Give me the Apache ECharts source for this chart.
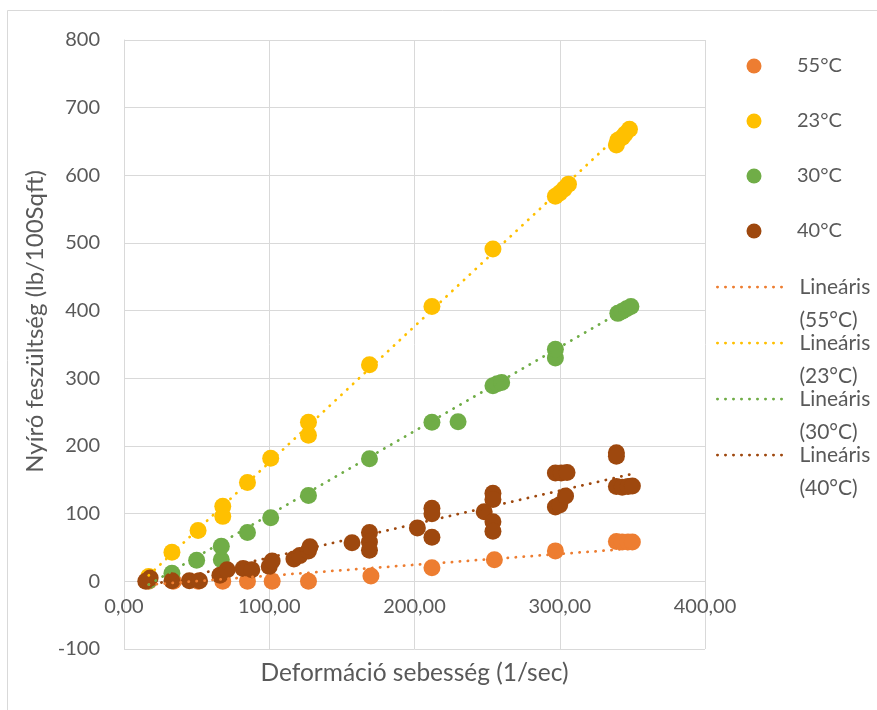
<!DOCTYPE html>
<html>
<head>
<meta charset="utf-8">
<script src="https://cdn.jsdelivr.net/npm/echarts@6/dist/echarts.min.js"></script>
<style>
  html, body { margin: 0; padding: 0; background: #ffffff; }
  #chart { width: 877px; height: 710px; }
</style>
</head>
<body>
<div id="chart"></div>
<script>
// ---- Data ----
const seriesNames = ['55°C', '23°C', '30°C', '40°C'];
const trendNames = ['Lineáris (55°C)', 'Lineáris (23°C)', 'Lineáris (30°C)', 'Lineáris (40°C)'];
const xTicks = [0, 100, 200, 300, 400];
const yTicks = [-100, 0, 100, 200, 300, 400, 500, 600, 700, 800];

const x55 = [17, 34, 51, 68, 85, 102, 127, 170, 212, 255, 297, 339, 343, 347, 350];
const y55 = [0, 0, 0, 0, 0, 0, 0, 8, 20, 32, 45, 59, 58, 58, 58];

const x23 = [17, 33, 51, 68, 68, 85, 101, 127, 127, 169, 212, 254, 297, 300, 303, 306, 339, 340, 343, 345, 348];
const y23 = [7, 43, 75, 96, 111, 146, 182, 216, 235, 320, 406, 491, 569, 574, 580, 587, 645, 652, 656, 661, 668];

const x30 = [17, 33, 50, 67, 67, 85, 101, 127, 169, 212, 230, 254, 257, 260, 297, 297, 340, 343, 346, 349];
const y30 = [1, 12, 31, 32, 52, 72, 94, 127, 181, 235, 236, 289, 292, 294, 330, 343, 396, 399, 403, 406];

const x40 = [15, 18, 33, 45, 52, 66, 71, 82, 88, 100, 102, 117, 121, 127, 128, 157, 169, 169, 169, 202,
             212, 212, 212, 248, 254, 254, 254, 254, 297, 301, 305, 297, 300, 304, 339, 339, 339, 343, 347, 350];
const y40 = [0, 5, 1, 1, 1, 9, 17, 19, 17, 22, 30, 33, 38, 45, 51, 57, 72, 58, 46, 79,
             108, 100, 65, 103, 130, 121, 88, 74, 160, 160, 161, 110, 113, 126, 190, 185, 140, 139, 140, 141];

// Trendline endpoints (x, y)
const trend55X = [17, 350];  const trend55Y = [-5, 48.5];
const trend23X = [17, 348];  const trend23Y = [8.8, 674.4];
const trend30X = [17, 349];  const trend30Y = [-4.9, 406.8];
const trend40X = [15, 350];  const trend40Y = [-7.1, 158.8];

// ---- Styling ----
const colors = ['#ED7D31', '#FFC000', '#70AD47', '#9E480E'];
const textColor = '#595959';
const gridColor = '#D9D9D9';
const FONT = 'Lato, "Open Sans", sans-serif';

function zip(xs, ys) { return xs.map((x, i) => [x, ys[i]]); }

const scatterData = [zip(x55, y55), zip(x23, y23), zip(x30, y30), zip(x40, y40)];
const trendData = [zip(trend55X, trend55Y), zip(trend23X, trend23Y), zip(trend30X, trend30Y), zip(trend40X, trend40Y)];

const series = [];
seriesNames.forEach((name, i) => {
  series.push({
    name: name,
    type: 'scatter',
    data: scatterData[i],
    symbol: 'circle',
    symbolSize: 17,
    itemStyle: { color: colors[i], opacity: 1 },
    z: 2,
    silent: true
  });
});
trendNames.forEach((name, i) => {
  series.push({
    name: name,
    type: 'line',
    data: trendData[i],
    symbol: 'none',
    lineStyle: { color: colors[i], width: 2.75, type: [0.25, 7.75], cap: 'round' },
    itemStyle: { color: colors[i] },
    z: 3,
    silent: true,
    animation: false
  });
});

const LH = 33;
const chart = echarts.init(document.getElementById('chart'), null, { renderer: 'canvas' });
chart.setOption({
  backgroundColor: '#ffffff',
  animation: false,
  textStyle: { fontFamily: FONT },
  grid: { left: 124, right: 172, top: 40, bottom: 61, containLabel: false, outerBoundsMode: 'none' },
  xAxis: {
    type: 'value',
    min: xTicks[0], max: xTicks[xTicks.length - 1], interval: 100,
    name: 'Deformáció sebesség (1/sec)',
    nameLocation: 'middle',
    nameGap: 12,
    nameTextStyle: { color: textColor, fontSize: 24.5, fontFamily: FONT },
    axisLine: { show: false, onZero: false },
    axisTick: { show: false },
    axisLabel: {
      color: textColor, fontSize: 20, fontFamily: FONT, margin: -52,
      formatter: v => v.toFixed(2).replace('.', ',')
    },
    splitLine: { show: true, lineStyle: { color: gridColor, width: 1 } }
  },
  yAxis: {
    type: 'value',
    min: yTicks[0], max: yTicks[yTicks.length - 1], interval: 100,
    name: 'Nyíró feszültség (lb/100Sqft)',
    nameLocation: 'middle',
    nameGap: 71,
    nameTextStyle: { color: textColor, fontSize: 24, fontFamily: FONT, padding: [0, 0, 0, 46] },
    axisLine: { show: true, onZero: false, lineStyle: { color: gridColor, width: 1 } },
    axisTick: { show: false },
    axisLabel: { color: textColor, fontSize: 20, fontFamily: FONT, margin: 24 },
    splitLine: { show: true, lineStyle: { color: gridColor, width: 1 } }
  },
  legend: [
    {
      data: seriesNames,
      orient: 'vertical',
      left: 746.5, top: 56,
      padding: 0,
      itemWidth: 76, itemHeight: 15, itemGap: 35,
      icon: 'circle',
      selectedMode: false,
      textStyle: { color: textColor, fontSize: 20, fontFamily: FONT, lineHeight: 20 }
    },
    {
      data: trendNames,
      orient: 'vertical',
      left: 716, top: 237.5,
      padding: 0,
      itemWidth: 72, itemHeight: 15, itemGap: -37,
      selectedMode: false,
      itemStyle: { color: 'rgba(0,0,0,0)', opacity: 0, borderWidth: 0 },
      lineStyle: { width: 2.75, opacity: 1 },
      formatter: name => {
        const parts = name.split(' ');
        return '{g|\u00a0}\n{s|' + parts[0] + '}\n{s|' + parts[1] + '}';
      },
      textStyle: {
        color: textColor, fontSize: 21, fontFamily: FONT,
        rich: {
          g: { fontSize: 21, fontFamily: FONT, lineHeight: LH, height: LH },
          s: { color: textColor, fontSize: 21, fontFamily: FONT, lineHeight: LH, padding: [0, 0, 0, 5] }
        }
      }
    }
  ],
  graphic: [
    {
      type: 'rect',
      shape: { x: 7.5, y: 10.5, width: 900, height: 720 },
      style: { fill: null, stroke: gridColor, lineWidth: 1 },
      silent: true,
      z: -10
    }
  ],
  series: series
});
</script>
</body>
</html>
